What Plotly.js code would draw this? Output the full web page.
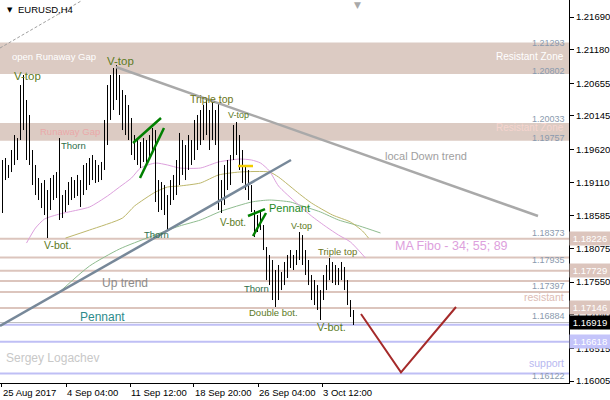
<!DOCTYPE html>
<html><head><meta charset="utf-8">
<script src="https://cdn.plot.ly/plotly-3.0.1.min.js"></script>
<style>html,body{margin:0;padding:0;background:#fff}#chart{width:610px;height:400px}</style>
</head><body><div id="chart"></div>
<script>
// ---- data (EURUSD H4 bars) ----
const barHigh = [1.19457,1.19488,1.19379,1.19613,1.19847,1.19800,1.20628,1.20785,1.20394,1.20160,
1.19613,1.19379,1.19176,1.19098,1.19144,1.18988,1.19176,1.19223,1.19269,1.19800,
1.18910,1.18988,1.19113,1.19191,1.19144,1.19223,1.19144,1.19379,1.19410,1.19488,
1.19535,1.19457,1.19379,1.19426,1.20082,1.20628,1.20785,1.20894,1.20941,1.20785,
1.20550,1.20472,1.20316,1.20113,1.19847,1.19769,1.19738,1.19800,1.19769,1.19847,
1.19957,1.19925,1.19144,1.19113,1.19066,1.18910,1.19144,1.19223,1.19457,1.19879,
1.19769,1.19691,1.19847,1.19769,1.20082,1.20160,1.20238,1.20316,1.20394,1.20238,
1.20394,1.20238,1.20347,1.19144,1.19379,1.19457,1.19535,1.20004,1.20050,1.19847,
1.19613,1.19379,1.19301,1.19066,1.18676,1.18598,1.18645,1.18442,1.18098,1.17973,
1.17895,1.17739,1.17817,1.17707,1.17864,1.17973,1.18051,1.17973,1.18051,1.18332,
1.18285,1.18051,1.17895,1.17661,1.17582,1.17504,1.17426,1.17661,1.17817,1.17926,
1.17864,1.17817,1.17770,1.17864,1.17786,1.17582,1.17270,1.17114];
const barLow = [1.18629,1.19144,1.19176,1.19269,1.19379,1.19457,1.19769,1.19925,1.19457,1.19379,
1.19066,1.18910,1.18832,1.18707,1.18598,1.18238,1.18676,1.18832,1.18863,1.18520,
1.18551,1.18645,1.18754,1.18832,1.18863,1.18895,1.18723,1.18910,1.18988,1.19066,
1.19144,1.19098,1.19113,1.19144,1.19301,1.19691,1.20082,1.20238,1.20394,1.20160,
1.19925,1.19847,1.19769,1.19535,1.19457,1.19379,1.19332,1.19426,1.19379,1.19457,
1.19613,1.18801,1.18645,1.18676,1.18598,1.18363,1.18754,1.18832,1.18910,1.19066,
1.19223,1.19144,1.19301,1.19379,1.19457,1.19613,1.19691,1.19769,1.19847,1.19613,
1.19769,1.19691,1.18676,1.18629,1.18754,1.18988,1.19066,1.19457,1.19535,1.19301,
1.19098,1.18988,1.18832,1.18645,1.18254,1.18332,1.18363,1.18051,1.17582,1.17504,
1.17270,1.17161,1.17270,1.17426,1.17504,1.17614,1.17770,1.17739,1.17817,1.17895,
1.17817,1.17661,1.17504,1.17270,1.17192,1.17114,1.16958,1.17270,1.17426,1.17582,
1.17536,1.17504,1.17504,1.17582,1.17426,1.17192,1.17005,1.16880];

const priceTicks = [1.21690,1.21180,1.20655,1.20145,1.19620,1.19110,1.18585,1.18075,1.17550,1.17040,1.16515,1.16005];
const dateTickIdx = [-0.17,21.17,42.5,63.83,85.17,106.5];
const dateTickLabels = ['25 Aug 2017','4 Sep 04:00','11 Sep 12:00','18 Sep 20:00','26 Sep 04:00','3 Oct 12:00'];

const zoneTop = [1.21293,1.20033];
const zoneBottom = [1.20802,1.19757];
const roseLevels = [1.18226,1.17935,1.17729,1.17567,1.17397,1.17146];
const blueLevels = [1.16884,1.16618,1.16122];
const bidPrice = 1.16919;

const ma34Idx = [8,11,14,19,22,29,35,39,43,46,51,55,59,66,72,79,83,86,89,92,98,103,108,112,116,121];
const ma34Val = [1.18160,1.18395,1.18535,1.18613,1.18645,1.18723,1.18895,1.19035,1.19176,1.19332,1.19410,1.19379,1.19332,1.19332,1.19426,1.19472,1.19457,1.19410,1.19285,1.19051,1.18785,1.18582,1.18410,1.18285,1.18176,1.17926];
const ma55Idx = [21,29,40,44,51,55,59,66,72,79,89,92,99,103,110,116,120,122];
const ma55Val = [1.18238,1.18363,1.18551,1.18738,1.18957,1.19035,1.19051,1.19098,1.19223,1.19269,1.19269,1.19191,1.18926,1.18785,1.18598,1.18488,1.18348,1.18238];
const ma89Idx = [19,29,39,49,59,66,73,83,89,96,99,106,112,119,126];
const ma89Val = [1.17395,1.17801,1.18067,1.18254,1.18426,1.18520,1.18660,1.18801,1.18832,1.18801,1.18754,1.18645,1.18520,1.18426,1.18317];

const downTrendIdx = [37.83,178.5], downTrendPrice = [1.20909,1.18582];
const upTrendIdx = [-0.83,96.17], upTrendPrice = [1.16864,1.19457];
const channelIdx = [-0.83,26.17], channelPrice = [1.21206,1.21940];
const wedgeAIdx = [43.5,52.83], wedgeAPrice = [1.19722,1.20113];
const wedgeBIdx = [45.83,53.83], wedgeBPrice = [1.19176,1.19957];
const pennantAIdx = [81.83,87.5], pennantAPrice = [1.18582,1.18691];
const pennantBIdx = [83.5,87.83], pennantBPrice = [1.18270,1.18629];
const neckIdx = [78.5,83.5], neckPrice = [1.19363,1.19363];
const forecastIdx = [119.5,132.83,151.17], forecastPrice = [1.17051,1.16140,1.17161];

// ---- build ----
const FONT = 'Liberation Sans, Arial, sans-serif';
const bx = [], by = [];
barHigh.forEach((h,i)=>{ bx.push(i,i,null); by.push(barLow[i],h,null); });

function line(x,y,color,width,extra){
  return Object.assign({type:'scatter',mode:'lines',x:x,y:y,hoverinfo:'skip',
    line:Object.assign({color:color,width:width},extra||{})});
}
const traces = [
  line(ma89Idx,ma89Val,'#8fbc8f',1,{shape:'spline',smoothing:0.6}),
  line(ma55Idx,ma55Val,'#bdb76b',1,{shape:'spline',smoothing:0.6}),
  line(ma34Idx,ma34Val,'#dda0dd',1,{shape:'spline',smoothing:0.6}),
  {type:'scatter',mode:'lines',x:bx,y:by,connectgaps:false,hoverinfo:'skip',line:{color:'#000',width:1}},
  line(channelIdx,channelPrice,'#a0a0a0',1,{dash:'3px,2px'}),
  line(downTrendIdx,downTrendPrice,'#a9a9a9',2.5),
  line(upTrendIdx,upTrendPrice,'#778899',2.5),
  line(wedgeAIdx,wedgeAPrice,'#008000',2.5),
  line(wedgeBIdx,wedgeBPrice,'#008000',2.5),
  line(pennantAIdx,pennantAPrice,'#008000',2.5),
  line(pennantBIdx,pennantBPrice,'#008000',2.5),
  line(neckIdx,neckPrice,'#f2cc00',2.5),
  line(forecastIdx,forecastPrice,'#a52a2a',2)
];

const shapes = [];
zoneTop.forEach((t,i)=>shapes.push({type:'rect',xref:'paper',x0:0,x1:1,yref:'y',y0:zoneBottom[i],y1:t,
  fillcolor:'#dccbc3',line:{width:0},layer:'below'}));
roseLevels.forEach(p=>shapes.push({type:'line',xref:'paper',x0:0,x1:1,yref:'y',y0:p,y1:p,
  line:{color:'#dcc5bd',width:2},layer:'below'}));
shapes.push({type:'line',xref:'paper',x0:0,x1:1,yref:'y',y0:bidPrice,y1:bidPrice,
  line:{color:'#c0c0c0',width:1},layer:'below'});
blueLevels.forEach(p=>shapes.push({type:'line',xref:'paper',x0:0,x1:1,yref:'y',y0:p,y1:p,
  line:{color:'#bfbff5',width:2},layer:'below'}));

const ann = [];
function T(x,y,text,size,color,anchor){
  ann.push({x:x,y:y,xref:'x',yref:'y',text:text,showarrow:false,xanchor:anchor||'center',yanchor:'middle',
    font:{family:FONT,size:size,color:color}});
}
const PAT = '#5b7a1e';
T(8.17,1.20769,'V-top',11.5,PAT);
T(39.17,1.21003,'V-top',11.5,PAT);
T(23.5,1.19691,'Thorn',9.5,'#2f6e4a');
T(18.17,1.18129,'V-bot.',10.5,PAT);
T(69.83,1.20410,'Triple top',10.5,'#6b7518');
T(78.5,1.20160,'V-top',9,PAT);
T(51.17,1.18301,'Thorn',9.5,'#2f6e4a');
T(76.83,1.18488,'V-bot.',10,PAT);
T(95.5,1.18707,'Pennant',11,'#1e8a1e');
T(99.83,1.18426,'V-top',9,PAT);
T(111.5,1.18035,'Triple top',9.5,'#6b7518');
T(84.5,1.17457,'Thorn',9.5,'#2f6e4a');
T(90.17,1.17083,'Double bot.',9.5,PAT);
T(109.5,1.16848,'V-bot.',11,PAT);
T(40.83,1.17536,'Up trend',12,'#8c8c8c');
T(33.17,1.17005,'Pennant',12,'#2e8b8b');
T(141.17,1.19519,'local Down trend',11,'#a0a0a0');
T(149.83,1.18114,'MA Fibo - 34; 55; 89',12.5,'#dda0dd');
T(16.5,1.16364,'Sergey Logachev',12,'#c8c8c8');
T(2.5,1.21066,'open Runaway Gap',9.5,'#ffffff','left');
T(187.83,1.21066,'Resistant Zone',10,'#ffffff','right');
T(11.83,1.19910,'Runaway Gap',9.5,'#eaa9a9','left');
T(187.83,1.19960,'Resistant Zone',10,'#f5d5cf','right');
T(187.83,1.17317,'resistant',10.5,'#dcbcb4','right');
T(187.83,1.16286,'support',10.5,'#b8b8f0','right');
const LBL = '#8a9aae';
[['1.21293',1.21284],['1.20802',1.20847],['1.20033',1.20090],['1.19757',1.19800],['1.18373',1.18317],
 ['1.17935',1.17895],['1.17397',1.17489],['1.16884',1.17020],['1.16122',1.16083]]
 .forEach(a=>T(188.17,a[1],a[0],9,LBL,'right'));

// right price boxes
[[1.18226,'#dcc5bd','#ffffff'],[1.17729,'#dcc5bd','#ffffff'],[1.17146,'#dcc5bd','#ffffff'],
 [bidPrice,'#000000','#ffffff'],[1.16618,'#c4c4fa','#ffffff']].forEach(b=>{
  ann.push({xref:'paper',x:1,xanchor:'left',xshift:0,yref:'y',y:b[0],yanchor:'middle',text:b[0].toFixed(5),
    showarrow:false,bgcolor:b[1],width:38,height:11,borderpad:1,align:'center',
    font:{family:FONT,size:9.5,color:b[2]}});
});
// date labels
dateTickIdx.forEach((x,i)=>ann.push({xref:'x',x:x,xanchor:'left',xshift:-1,yref:'paper',y:0,yanchor:'top',yshift:-2,
  text:dateTickLabels[i],showarrow:false,font:{family:FONT,size:9.5,color:'#000'}}));
// header
ann.push({xref:'paper',x:5/569,xanchor:'left',yref:'paper',y:1,yanchor:'top',yshift:-4,text:'▼',showarrow:false,
  font:{family:'DejaVu Sans',size:7,color:'#000'}});
ann.push({xref:'paper',x:16/569,xanchor:'left',yref:'paper',y:1,yanchor:'top',yshift:-2,text:'EURUSD,H4',showarrow:false,
  font:{family:FONT,size:9.5,color:'#000'}});
ann.push({xref:'paper',x:357/569,xanchor:'center',yref:'paper',y:1,yanchor:'top',yshift:2,text:'▼',showarrow:false,
  font:{family:'DejaVu Sans',size:9,color:'#a9a9a9'}});

const layout = {
  width:610,height:400,margin:{l:0,r:41,t:0,b:17,pad:0},
  paper_bgcolor:'#fff',plot_bgcolor:'#fff',showlegend:false,
  xaxis:{range:[-0.8333,188.8333],tickvals:dateTickIdx,showticklabels:false,ticks:'outside',ticklen:3,
    tickcolor:'#000',showline:true,linecolor:'#000',linewidth:1,showgrid:false,zeroline:false,fixedrange:true,automargin:false},
  yaxis:{side:'right',range:[1.15974,1.21956],tickvals:priceTicks,ticktext:priceTicks.map(v=>v.toFixed(5)),
    ticks:'outside',ticklen:4,tickcolor:'#000',showline:true,linecolor:'#000',linewidth:1,showgrid:false,
    zeroline:false,tickfont:{family:FONT,size:9.5,color:'#000'},fixedrange:true,automargin:false},
  shapes:shapes,annotations:ann
};
Plotly.newPlot('chart',traces,layout,{staticPlot:true,displayModeBar:false});
</script></body></html>
